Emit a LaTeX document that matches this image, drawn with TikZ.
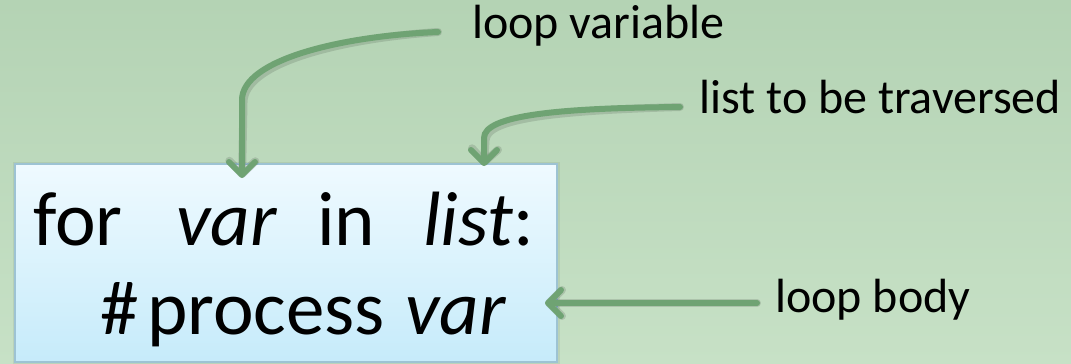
\documentclass[tikz,border=0pt]{standalone}
\usepackage{fontspec}
\setmainfont{Carlito}
\usetikzlibrary{arrows.meta}
\definecolor{bgtop}{HTML}{B4D3B4}
\definecolor{bgbot}{HTML}{C7E1C6}
\definecolor{boxtop}{HTML}{EFFAFF}
\definecolor{boxbot}{HTML}{C6EBFA}
\definecolor{boxline}{HTML}{9DC3D3}
\definecolor{arrowgreen}{HTML}{6FA373}
\tikzset{
  lbl/.style={inner sep=0pt, anchor=base west, font=\fontsize{48}{52}\selectfont},
  code/.style={inner sep=0pt, anchor=base west, font=\fontsize{77}{81}\selectfont},
  conn/.style={draw=arrowgreen, line width=6pt, line cap=round,
    -{Straight Barb[length=13pt,width=26pt,round]}},
  connshadow/.style={draw=black, opacity=0.12, line width=8pt, line cap=round,
    -{Straight Barb[length=13pt,width=26pt,round]}}
}
\begin{document}
\begin{tikzpicture}[x=1pt,y=-1pt]
\useasboundingbox (0,0) rectangle (1071,364);
% background
\shade[top color=bgtop, bottom color=bgbot] (0,0) rectangle (1071,364);
% box shadow
\fill[black, opacity=0.06] (13,162) rectangle (560,364);
% box
\shade[top color=boxtop, bottom color=boxbot] (15,164) rectangle (557,362);
\draw[boxline, line width=1.5pt] (15,164) rectangle (557,362);
% code text
\node[code] (for) at (33,245) {for};
\node[code] (var) at (176,245) {\itshape var};
\node[code] (in) at (317,245) {in};
\node[code] (list) at (423,245) {\itshape list\upshape:};
\node[code] (hash) at (100,334) {\#};
\node[code] (process) at (147,334) {process};
\node[code] (var2) at (405,334) {\itshape var};
% labels
\node[lbl] (lv) at (472,38) {loop variable};
\node[lbl] (lt) at (699,113) {list to be traversed};
\node[lbl] (lb) at (775,312) {loop body};
% connector endpoints
\coordinate (a1s) at (438,32);
\coordinate (a1e) at (242,178);
\coordinate (a2s) at (680,107);
\coordinate (a2e) at (484,166);
\coordinate (a3s) at (757,303);
\coordinate (a3e) at (545,303);
% shadows
\begin{scope}[shift={(1.5,2.5)}]
\draw[connshadow] (a1s) .. controls (340,36) and (242,60) .. (242,100) -- (a1e);
\draw[connshadow] (a2s) .. controls (560,108) and (484,115) .. (484,138) -- (a2e);
\draw[connshadow] (a3s) -- (a3e);
\end{scope}
% connectors
\draw[conn] (a1s) .. controls (340,36) and (242,60) .. (242,100) -- (a1e);
\draw[conn] (a2s) .. controls (560,108) and (484,115) .. (484,138) -- (a2e);
\draw[conn] (a3s) -- (a3e);
\end{tikzpicture}
\end{document}
